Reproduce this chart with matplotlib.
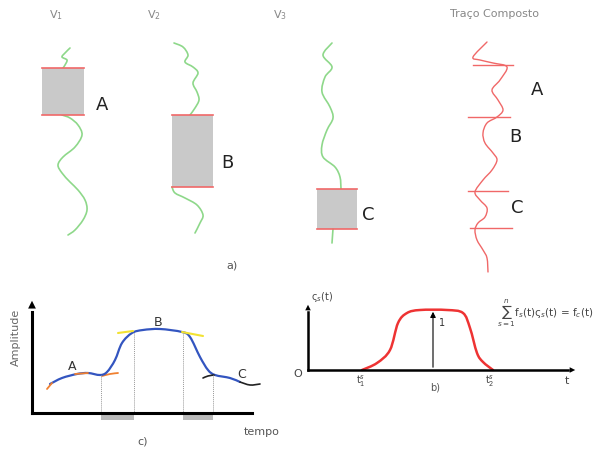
import matplotlib
matplotlib.use("Agg")
import matplotlib.pyplot as plt
from matplotlib.patches import Rectangle, FancyArrowPatch, PathPatch
from matplotlib.path import Path

# ---------------- data (pixel-space schematic) ----------------
# panel a traces
trace1_top = [(70,48),(65,53),(62,57),(67,60),(65,65),(63,68)]
trace1_bot = [(62,115),(70,118),(78,125),(82,135),(75,147),(63,157),(58,165),(62,173),
              (70,182),(78,190),(85,200),(87,210),(83,220),(75,230),(68,235)]
box_a = (42, 68, 84, 115)
trace2_top = [(174,43),(183,47),(188,55),(185,62),(193,67),(198,73),(193,83),(197,92),
              (199,100),(195,108),(190,115)]
trace2_bot = [(172,187),(175,193),(185,198),(197,205),(203,215),(200,223),(195,233)]
box_b = (172, 115, 213, 187)
trace3_top = [(332,43),(323,55),(332,67),(325,77),(322,92),(330,107),(333,118),(327,130),
              (322,145),(323,157),(335,167),(340,177),(341,189)]
trace3_bot = [(333,229),(332,243)]
box_c = (317, 189, 357, 229)
trace4 = [(487,42),(473,57),(480,60),(493,63),(507,67),(500,80),(492,90),(498,100),(503,110),
          (497,117),(487,123),(483,133),(485,143),(493,153),(497,160),(492,170),(483,180),
          (475,192),(480,200),(487,208),(485,217),(478,223),(475,230),(477,240),(483,250),
          (487,258),(488,272)]
trace4_ticks = [(473,513,65),(468,510,117),(468,508,191),(470,512,228)]
box_labels = [("A",102,105),("B",227,163),("C",368,215)]
comp_labels = [("A",537,90),("B",515,137),("C",517,208)]
v_labels = [("V",56,"1",15),("V",154,"2",15),("V",280,"3",15)]

# panel c
c_blue = [(50,384),(62,378),(77,374),(88,373),(100,375),(107,372),(115,360),(122,343),
          (132,333),(143,330),(160,329),(182,332),(190,337),(200,357),(208,370),(215,375),
          (230,378),(240,382)]
c_black = [(240,382),(250,385),(260,384)]
c_black2 = [(203,378),(208,376),(214,375)]
c_orange = [[(47,389),(52,383)],[(75,374),(88,373)],[(102,376),(110,374),(118,373)]]
c_yellow = [[(118,333),(133,331)],[(182,332),(203,336)]]
c_dotted = [(101,375),(134,333),(183,333),(213,375)]
c_bars = [(101,134),(183,213)]

# panel b
b_curve = [(362,370),(377,363),(390,350),(398,323),(407,313),(420,310),(447,310),(463,313),
           (470,328),(477,353),(483,362),(493,370)]

GREEN = "#8ed88a"
RED = "#f06868"
GRAY = "#c9c9c9"

fig = plt.figure(figsize=(6.1, 4.5), dpi=100)
ax = fig.add_axes([0, 0, 1, 1])
ax.set_xlim(0, 610)
ax.set_ylim(450, 0)
ax.axis("off")

def line(pts, **kw):
    """Smooth curve through the read points (Catmull-Rom drawn as Bezier path)."""
    color = kw.pop("color"); lw = kw.pop("lw")
    if len(pts) < 3:
        xs = [p[0] for p in pts]; ys = [p[1] for p in pts]
        ax.plot(xs, ys, color=color, lw=lw, solid_capstyle="round")
        return
    P = [pts[0]] + list(pts) + [pts[-1]]
    verts = [pts[0]]
    codes = [Path.MOVETO]
    for i in range(1, len(P) - 2):
        p0, p1, p2, p3 = P[i - 1], P[i], P[i + 1], P[i + 2]
        c1 = (p1[0] + (p2[0] - p0[0]) / 6, p1[1] + (p2[1] - p0[1]) / 6)
        c2 = (p2[0] - (p3[0] - p1[0]) / 6, p2[1] - (p3[1] - p1[1]) / 6)
        verts += [c1, c2, p2]
        codes += [Path.CURVE4] * 3
    ax.add_patch(PathPatch(Path(verts, codes), facecolor="none", edgecolor=color, lw=lw,
                           capstyle="round", joinstyle="round"))

# ---- panel a ----
for pts in (trace1_top, trace1_bot, trace2_top, trace2_bot, trace3_top, trace3_bot):
    line(pts, color=GREEN, lw=1.2)
for (x0, y0, x1, y1) in (box_a, box_b, box_c):
    ax.add_patch(Rectangle((x0, y0), x1 - x0, y1 - y0, facecolor=GRAY, edgecolor="none"))
    ax.plot([x0, x1], [y0, y0], color=RED, lw=1.2)
    ax.plot([x0, x1], [y1, y1], color=RED, lw=1.2)
for t, x, y in box_labels:
    ax.text(x, y, t, fontsize=13, color="#222222", ha="center", va="center")
line(trace4, color=RED, lw=1.0)
for x0, x1, y in trace4_ticks:
    ax.plot([x0, x1], [y, y], color=RED, lw=1.0)
for t, x, y in comp_labels:
    ax.text(x, y, t, fontsize=13, color="#222222", ha="center", va="center")
for v, x, s, y in v_labels:
    ax.text(x, y, v + "$_{" + s + "}$", fontsize=8, color="#888888", ha="center", va="center")
ax.text(494, 14, "Traço Composto", fontsize=8, color="#888888", ha="center", va="center")
ax.text(232, 265, "a)", fontsize=8, color="#555555", ha="center", va="center")

# ---- panel c ----
for x, y in c_dotted:
    ax.plot([x, x], [y, 413], color="#999999", lw=0.7, ls=(0, (1, 1)))
for x0, x1 in c_bars:
    ax.add_patch(Rectangle((x0, 413), x1 - x0, 7, facecolor="#bbbbbb", edgecolor="none"))
for seg in c_orange:
    line(seg, color="#f08030", lw=1.3)
for seg in c_yellow:
    line(seg, color="#f2e232", lw=1.5)
line(c_blue, color="#3355c0", lw=1.6)
line(c_black, color="#222222", lw=1.2)
line(c_black2, color="#222222", lw=1.2)
ax.plot([32, 32], [413, 312], color="black", lw=2.2)
ax.plot([32, 252], [413, 413], color="black", lw=2.2)
ax.add_patch(FancyArrowPatch((32, 315), (32, 298), arrowstyle="-|>", mutation_scale=14,
                             color="black", lw=0))
ax.text(16, 337, "Amplitude", fontsize=8, color="#666666", rotation=90, ha="center", va="center")
ax.text(262, 432, "tempo", fontsize=8, color="#555555", ha="center", va="center")
ax.text(72, 366, "A", fontsize=9, color="#333333", ha="center", va="center")
ax.text(158, 323, "B", fontsize=9, color="#333333", ha="center", va="center")
ax.text(242, 374, "C", fontsize=9, color="#333333", ha="center", va="center")
ax.text(143, 442, "c)", fontsize=8, color="#555555", ha="center", va="center")

# ---- panel b ----
ax.plot([308, 308], [370, 312], color="black", lw=1.8)
ax.add_patch(FancyArrowPatch((308, 314), (308, 302), arrowstyle="-|>", mutation_scale=10,
                             color="black", lw=0))
ax.plot([308, 568], [370, 370], color="black", lw=1.8)
ax.add_patch(FancyArrowPatch((565, 370), (578, 370), arrowstyle="-|>", mutation_scale=10,
                             color="black", lw=0))
line(b_curve, color="#ee3333", lw=1.8)
ax.add_patch(FancyArrowPatch((433, 370), (433, 309), arrowstyle="-|>", mutation_scale=8,
                             color="black", lw=0.8))
ax.text(442, 323, "1", fontsize=7, color="#333333", ha="center", va="center")
ax.text(322, 297, "ς$_s$(t)", fontsize=7, color="#444444", ha="center", va="center")
ax.text(298, 374, "O", fontsize=8, color="#444444", ha="center", va="center")
ax.text(361, 381, "t$_1^s$", fontsize=7, color="#444444", ha="center", va="center")
ax.text(490, 381, "t$_2^s$", fontsize=7, color="#444444", ha="center", va="center")
ax.text(567, 381, "t", fontsize=8, color="#444444", ha="center", va="center")
ax.text(435, 388, "b)", fontsize=7, color="#555555", ha="center", va="center")
ax.text(497, 313, r"$\sum_{s=1}^{n}$f$_s$(t)ς$_s$(t) = f$_c$(t)", fontsize=7.5,
        color="#444444", ha="left", va="center")

fig.savefig("out.png", dpi=100)
